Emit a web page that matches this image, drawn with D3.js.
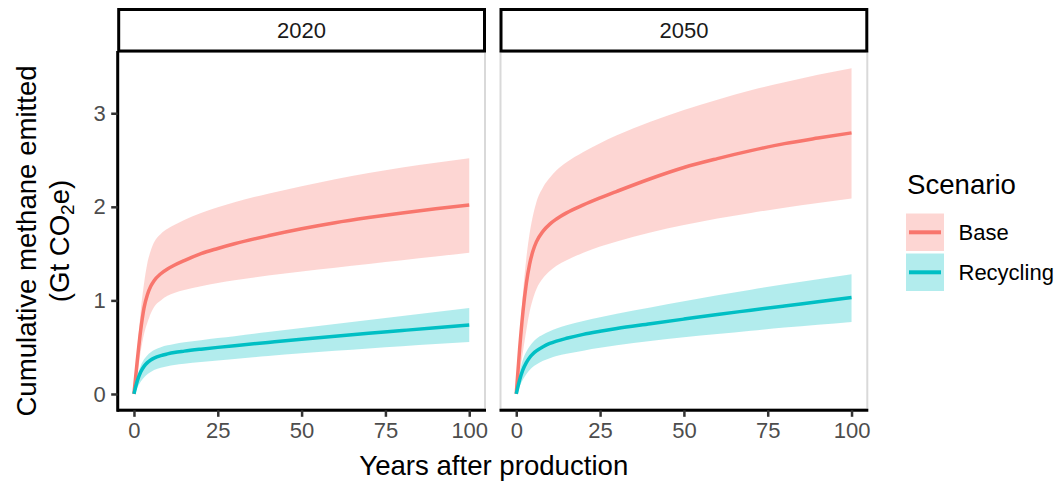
<!DOCTYPE html>
<html>
<head>
<meta charset="utf-8">
<script src="https://cdn.jsdelivr.net/npm/d3@7/dist/d3.min.js"></script>
<style>
  html, body { margin: 0; padding: 0; background: #fff; }
  svg { display: block; }
  text { font-family: "Liberation Sans", Arial, sans-serif; }
</style>
</head>
<body>
<svg id="chart" width="1064" height="484"></svg>
<script>
// Years after production at which cumulative emissions are sampled
const years = [0, 1, 2, 3, 4, 5, 6, 8, 10, 12, 15, 20, 25, 30, 40, 50, 60, 70, 80, 90, 100];

// 2020 production cohort (Gt CO2e): central estimate and uncertainty band
const base2020Mid = [0, 0.36, 0.68, 0.92, 1.06, 1.15, 1.21, 1.285, 1.335, 1.375, 1.425, 1.50, 1.555, 1.605, 1.69, 1.765, 1.83, 1.885, 1.935, 1.98, 2.02];
const base2020Lo  = [0, 0.20, 0.45, 0.64, 0.76, 0.86, 0.93, 1.00, 1.05, 1.08, 1.11, 1.15, 1.185, 1.215, 1.265, 1.31, 1.35, 1.39, 1.43, 1.47, 1.51];
const base2020Hi  = [0, 0.45, 0.88, 1.18, 1.40, 1.53, 1.62, 1.71, 1.765, 1.805, 1.86, 1.935, 1.995, 2.05, 2.14, 2.22, 2.295, 2.36, 2.42, 2.47, 2.52];
const rec2020Mid  = [0, 0.14, 0.235, 0.295, 0.335, 0.363, 0.383, 0.41, 0.428, 0.443, 0.458, 0.479, 0.498, 0.516, 0.551, 0.585, 0.617, 0.648, 0.678, 0.708, 0.737];
const rec2020Lo   = [0, 0.07, 0.13, 0.175, 0.21, 0.235, 0.255, 0.28, 0.297, 0.309, 0.323, 0.341, 0.358, 0.374, 0.405, 0.434, 0.461, 0.487, 0.511, 0.534, 0.555];
const rec2020Hi   = [0, 0.19, 0.30, 0.37, 0.415, 0.447, 0.47, 0.50, 0.52, 0.535, 0.553, 0.575, 0.597, 0.618, 0.661, 0.704, 0.747, 0.79, 0.833, 0.876, 0.919];

// 2050 production cohort (Gt CO2e): central estimate and uncertainty band
const base2050Mid = [0, 0.48, 0.88, 1.18, 1.39, 1.53, 1.625, 1.74, 1.815, 1.87, 1.935, 2.02, 2.095, 2.165, 2.30, 2.42, 2.515, 2.60, 2.675, 2.735, 2.79];
const base2050Lo  = [0, 0.22, 0.45, 0.68, 0.88, 1.02, 1.12, 1.24, 1.315, 1.37, 1.43, 1.51, 1.575, 1.63, 1.725, 1.805, 1.875, 1.935, 1.99, 2.04, 2.09];
const base2050Hi  = [0, 0.58, 1.08, 1.45, 1.72, 1.91, 2.05, 2.21, 2.31, 2.39, 2.475, 2.585, 2.68, 2.765, 2.91, 3.035, 3.145, 3.245, 3.33, 3.41, 3.48];
const rec2050Mid  = [0, 0.15, 0.26, 0.335, 0.39, 0.43, 0.46, 0.505, 0.54, 0.565, 0.595, 0.637, 0.67, 0.70, 0.75, 0.80, 0.85, 0.895, 0.94, 0.985, 1.03];
const rec2050Lo   = [0, 0.08, 0.155, 0.21, 0.255, 0.29, 0.315, 0.355, 0.383, 0.405, 0.43, 0.463, 0.493, 0.52, 0.565, 0.605, 0.64, 0.675, 0.71, 0.74, 0.77];
const rec2050Hi   = [0, 0.23, 0.37, 0.45, 0.51, 0.555, 0.59, 0.635, 0.67, 0.70, 0.735, 0.78, 0.82, 0.857, 0.925, 0.99, 1.055, 1.115, 1.172, 1.227, 1.28];

const panelLabels = ["2020", "2050"];
const scenarios = ["Base", "Recycling"];
const scenarioColors = ["#F8766D", "#00BFC4"];
const xTicks = [0, 25, 50, 75, 100];
const yTicks = [0, 1, 2, 3];

const panelData = [
  { label: panelLabels[0], series: [
      { name: scenarios[0], mid: base2020Mid, lo: base2020Lo, hi: base2020Hi },
      { name: scenarios[1], mid: rec2020Mid,  lo: rec2020Lo,  hi: rec2020Hi } ] },
  { label: panelLabels[1], series: [
      { name: scenarios[0], mid: base2050Mid, lo: base2050Lo, hi: base2050Hi },
      { name: scenarios[1], mid: rec2050Mid,  lo: rec2050Lo,  hi: rec2050Hi } ] }
];

const svg = d3.select("#chart");
const color = d3.scaleOrdinal().domain(scenarios).range(scenarioColors);

const FONT = "Liberation Sans, Arial, sans-serif";
const smallSize = 22, titleSize = 27.6;

// layout
const panelW = 368.8, panelGap = 13.5;
const panelLeft0 = 117.2;
const panelTop = 51, panelBottom = 410.3;
const stripTop = 8;

const y = d3.scaleLinear().domain([-0.1745, 3.665]).range([panelBottom, panelTop]);

panelData.forEach((p, i) => {
  const left = panelLeft0 + i * (panelW + panelGap);
  const x = d3.scaleLinear().domain([-5, 105]).range([left, left + panelW]);
  const g = svg.append("g");

  // uncertainty ribbons
  p.series.forEach(s => {
    const pts = years.map((yr, k) => ({ x: yr, lo: s.lo[k], hi: s.hi[k] }));
    const area = d3.area().curve(d3.curveMonotoneX)
      .x(d => x(d.x)).y0(d => y(d.lo)).y1(d => y(d.hi));
    g.append("path").datum(pts).attr("d", area)
      .attr("fill", color(s.name)).attr("fill-opacity", 0.3);
  });
  // central estimate lines
  p.series.forEach(s => {
    const pts = years.map((yr, k) => ({ x: yr, v: s.mid[k] }));
    const line = d3.line().curve(d3.curveMonotoneX).x(d => x(d.x)).y(d => y(d.v));
    g.append("path").datum(pts).attr("d", line)
      .attr("fill", "none").attr("stroke", color(s.name))
      .attr("stroke-width", 3.5).attr("stroke-linejoin", "round");
  });

  // light panel border
  g.append("rect").attr("x", left + 1).attr("y", panelTop + 1)
    .attr("width", panelW - 2).attr("height", panelBottom - panelTop - 2)
    .attr("fill", "none").attr("stroke", "#D9D9D9").attr("stroke-width", 2);

  // facet strip
  g.append("rect").attr("x", left + 1.5).attr("y", stripTop + 1.5)
    .attr("width", panelW - 3).attr("height", panelTop - stripTop - 1.5)
    .attr("fill", "#fff").attr("stroke", "#000").attr("stroke-width", 3);
  g.append("text").attr("x", left + panelW / 2).attr("y", 38.3)
    .attr("text-anchor", "middle").attr("font-size", smallSize).attr("fill", "#1A1A1A")
    .text(p.label);

  // x axis
  const xAxis = g.append("g").attr("transform", `translate(0,${panelBottom})`)
    .call(d3.axisBottom(x).tickValues(xTicks).tickFormat(d3.format("d"))
      .tickSize(6.5).tickPadding(6).tickSizeOuter(0));
  xAxis.select(".domain").attr("stroke", "#000").attr("stroke-width", 3)
    .attr("d", `M${left},0H${left + panelW}`);
  xAxis.selectAll(".tick line").attr("stroke", "#333").attr("stroke-width", 2.5);
  xAxis.selectAll(".tick text").attr("font-size", smallSize).attr("fill", "#4D4D4D")
    .attr("font-family", FONT);

  // y axis on the first panel only
  if (i === 0) {
    const yAxis = g.append("g").attr("transform", `translate(${left + 0.5},0)`)
      .call(d3.axisLeft(y).tickValues(yTicks).tickFormat(d3.format("d"))
        .tickSize(6.5).tickPadding(5.5).tickSizeOuter(0));
    yAxis.select(".domain").attr("stroke", "#000").attr("stroke-width", 3)
      .attr("d", `M0,${panelTop}V${panelBottom + 1.5}`);
    yAxis.selectAll(".tick line").attr("stroke", "#333").attr("stroke-width", 2.5);
    yAxis.selectAll(".tick text").attr("font-size", smallSize).attr("fill", "#4D4D4D")
      .attr("font-family", FONT);
  }
});

// axis titles
const plotCenterX = panelLeft0 + (2 * panelW + panelGap) / 2;
svg.append("text").attr("x", plotCenterX + 1).attr("y", 475)
  .attr("text-anchor", "middle").attr("font-size", titleSize).attr("fill", "#000")
  .text("Years after production");

const yTitleCenter = 241;
svg.append("text").attr("transform", `translate(35.5,${yTitleCenter}) rotate(-90)`)
  .attr("text-anchor", "middle").attr("font-size", titleSize).attr("fill", "#000")
  .text("Cumulative methane emitted");
const t2 = svg.append("text").attr("transform", `translate(69,${yTitleCenter}) rotate(-90)`)
  .attr("text-anchor", "middle").attr("font-size", titleSize).attr("fill", "#000");
t2.append("tspan").text("(Gt CO");
t2.append("tspan").attr("font-size", 19).attr("dy", 5).text("2");
t2.append("tspan").attr("dy", -5).text("e)");

// legend
const legend = svg.append("g");
legend.append("text").attr("x", 907).attr("y", 194).attr("font-size", titleSize).attr("fill", "#000")
  .text("Scenario");
scenarios.forEach((s, k) => {
  const top = 213.5 + k * 40;
  legend.append("rect").attr("x", 906).attr("y", top).attr("width", 38).attr("height", 37.5)
    .attr("fill", color(s)).attr("fill-opacity", 0.3);
  legend.append("line").attr("x1", 909).attr("x2", 941)
    .attr("y1", top + 18.8).attr("y2", top + 18.8)
    .attr("stroke", color(s)).attr("stroke-width", 4);
  legend.append("text").attr("x", 958.5).attr("y", top + 26.8).attr("font-size", smallSize)
    .attr("fill", "#000").text(s);
});
</script>
</body>
</html>
